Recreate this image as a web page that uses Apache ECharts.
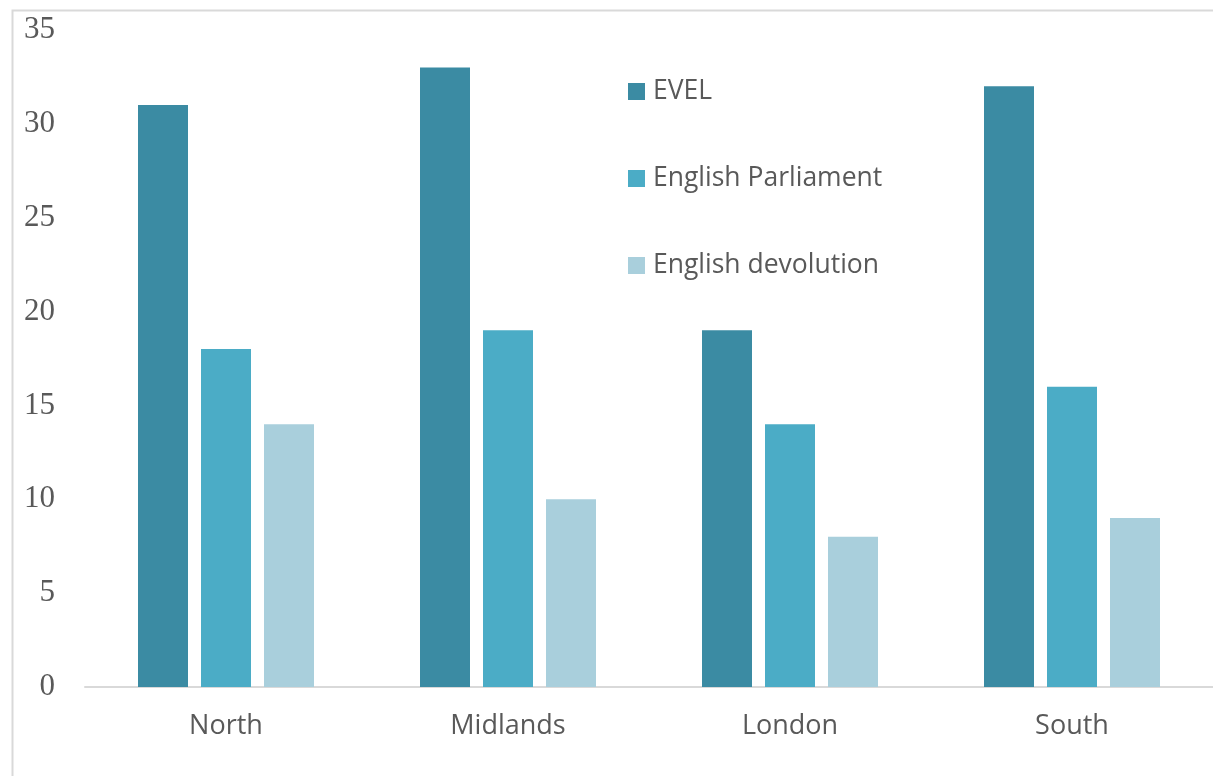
<!DOCTYPE html>
<html>
<head>
<meta charset="utf-8">
<script src="https://cdn.jsdelivr.net/npm/echarts@6/dist/echarts.min.js"></script>
<style>
  html, body { margin: 0; padding: 0; background: #fff; }
  #main { width: 1213px; height: 776px; }
</style>
</head>
<body>
<div id="main"></div>
<script>
// regions and survey values
var regions = ['North', 'Midlands', 'London', 'South'];
var evel = [31, 33, 19, 32];
var englishParliament = [18, 19, 14, 16];
var englishDevolution = [14, 10, 8, 9];
var yTicks = { min: 0, max: 35, interval: 5 };

var chart = echarts.init(document.getElementById('main'));

var textColor = '#595959';

option = {
    animation: false,
    color: ['#3B8BA3', '#4BACC6', '#A9CFDC'],
    graphic: [{
        type: 'rect',
        left: 10,
        top: 8,
        shape: { width: 1400, height: 1000 },
        style: { fill: 'none', stroke: '#d9d9d9', lineWidth: 2 },
        silent: true
    }],
    legend: {
        orient: 'vertical',
        left: 623,
        top: 73,
        icon: 'rect',
        itemWidth: 17,
        itemHeight: 17,
        itemGap: 60,
        textStyle: {
            fontFamily: 'Open Sans',
            fontSize: 26.5,
            lineHeight: 27,
            color: textColor,
            padding: [0, 0, 0, 3]
        },
        data: ['EVEL', 'English Parliament', 'English devolution']
    },
    grid: {
        left: 85,
        right: -1,
        top: 30,
        bottom: 89,
        containLabel: false
    },
    xAxis: {
        type: 'category',
        data: regions,
        axisLine: { lineStyle: { color: '#d9d9d9', width: 2 } },
        axisTick: { show: false },
        axisLabel: {
            fontFamily: 'Open Sans',
            fontSize: 27,
            color: textColor,
            margin: 26
        }
    },
    yAxis: {
        type: 'value',
        min: yTicks.min,
        max: yTicks.max,
        interval: yTicks.interval,
        axisLine: { show: false },
        axisTick: { show: false },
        splitLine: { show: false },
        axisLabel: {
            fontFamily: 'Liberation Serif',
            fontSize: 31,
            color: textColor,
            margin: 30,
            padding: [6, 0, 0, 0]
        }
    },
    series: [
        {
            name: 'EVEL',
            type: 'bar',
            barWidth: 50,
            barGap: '26%',
            data: evel
        },
        {
            name: 'English Parliament',
            type: 'bar',
            barWidth: 50,
            barGap: '26%',
            data: englishParliament
        },
        {
            name: 'English devolution',
            type: 'bar',
            barWidth: 50,
            barGap: '26%',
            data: englishDevolution
        }
    ]
};
chart.setOption(option);
</script>
</body>
</html>
